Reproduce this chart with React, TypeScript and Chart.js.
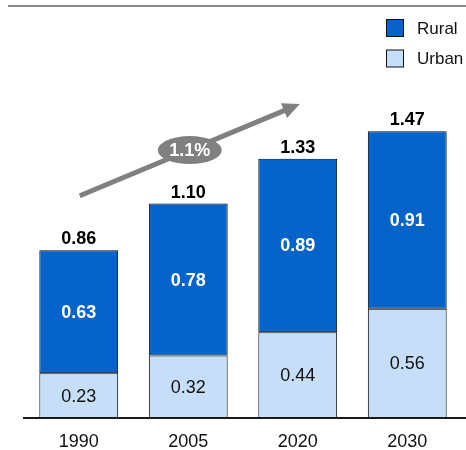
import { useEffect, useRef } from "react";
import { Chart, registerables } from "chart.js";

Chart.register(...registerables);

const categories = ["1990", "2005", "2020", "2030"];
const urbanValues = [0.23, 0.32, 0.44, 0.56];
const ruralValues = [0.63, 0.78, 0.89, 0.91];
const totalValues = [0.86, 1.1, 1.33, 1.47];
const growthLabel = "1.1%";
const seriesNames = ["Rural", "Urban"];

const RURAL_COLOR = "#0563C9";
const URBAN_COLOR = "#C6DEF7";
const FONT = "'Liberation Sans', Arial, sans-serif";

const annotationPlugin = {
  id: "annotations",
  afterDatasetsDraw(chart: any) {
    const ctx = chart.ctx;
    const xs = chart.scales.x;
    const ys = chart.scales.y;
    ctx.save();

    // top rule
    ctx.strokeStyle = "#8a8a8a";
    ctx.lineWidth = 2;
    ctx.beginPath();
    ctx.moveTo(8, 6);
    ctx.lineTo(chart.width, 6);
    ctx.stroke();

    // baseline
    const baseY = ys.getPixelForValue(0);
    ctx.strokeStyle = "#1a1a1a";
    ctx.lineWidth = 2;
    ctx.beginPath();
    ctx.moveTo(23, baseY);
    ctx.lineTo(chart.width, baseY);
    ctx.stroke();

    // segment labels
    ctx.textAlign = "center";
    ctx.textBaseline = "middle";
    chart.data.datasets.forEach((ds: any, di: number) => {
      const meta = chart.getDatasetMeta(di);
      meta.data.forEach((el: any, i: number) => {
        const cy = (el.y + el.base) / 2;
        const isRural = ds.label === "Rural";
        ctx.font = (isRural ? "bold " : "") + "18px " + FONT;
        ctx.fillStyle = isRural ? "#ffffff" : "#111111";
        ctx.fillText(ds.data[i].toFixed(2), el.x, cy + 1);
      });
    });

    // totals
    const ruralMeta = chart.getDatasetMeta(1);
    ctx.font = "bold 18px " + FONT;
    ctx.fillStyle = "#000000";
    ctx.textBaseline = "alphabetic";
    ruralMeta.data.forEach((el: any, i: number) => {
      ctx.fillText(totalValues[i].toFixed(2), el.x, el.y - 6);
    });

    // growth arrow
    const x0 = xs.getPixelForValue(0) + 1;
    const y0 = ys.getPixelForValue(1.14);
    const x1 = xs.getPixelForValue(2) + 2;
    const y1 = ys.getPixelForValue(1.61);
    const ang = Math.atan2(y1 - y0, x1 - x0);
    const headLen = 17;
    const headW = 8;
    const bx = x1 - headLen * Math.cos(ang);
    const by = y1 - headLen * Math.sin(ang);
    ctx.strokeStyle = "#808080";
    ctx.fillStyle = "#808080";
    ctx.lineWidth = 5;
    ctx.beginPath();
    ctx.moveTo(x0, y0);
    ctx.lineTo(bx + 2 * Math.cos(ang), by + 2 * Math.sin(ang));
    ctx.stroke();
    ctx.beginPath();
    ctx.moveTo(x1, y1);
    ctx.lineTo(bx + headW * Math.sin(ang), by - headW * Math.cos(ang));
    ctx.lineTo(bx - headW * Math.sin(ang), by + headW * Math.cos(ang));
    ctx.closePath();
    ctx.fill();

    // ellipse badge
    const ex = xs.getPixelForValue(1) + 1.5;
    const ey = ys.getPixelForValue(1.374);
    ctx.beginPath();
    ctx.ellipse(ex, ey, 32, 14, 0, 0, Math.PI * 2);
    ctx.fill();
    ctx.fillStyle = "#ffffff";
    ctx.font = "bold 18px " + FONT;
    ctx.textBaseline = "middle";
    ctx.fillText(growthLabel, ex, ey + 1);

    // legend
    const legendColors = [RURAL_COLOR, URBAN_COLOR];
    ctx.textAlign = "left";
    ctx.font = "17px " + FONT;
    seriesNames.forEach((name, i) => {
      const ly = 19 + i * 30.5;
      ctx.fillStyle = legendColors[i];
      ctx.fillRect(386.5, ly + 0.5, 17, 17);
      ctx.strokeStyle = "#111111";
      ctx.lineWidth = 1;
      ctx.strokeRect(386.5, ly + 0.5, 17, 17);
      ctx.fillStyle = "#111111";
      ctx.fillText(name, 417, ly + 10);
    });

    ctx.restore();
  },
};

export default function App() {
  const ref = useRef<HTMLCanvasElement>(null);
  useEffect(() => {
    if (!ref.current) return;
    const chart = new Chart(ref.current, {
      type: "bar",
      data: {
        labels: categories,
        datasets: [
          {
            label: "Urban",
            data: urbanValues,
            backgroundColor: URBAN_COLOR,
            borderColor: "#000000",
            borderWidth: 1,
            borderSkipped: false,
            categoryPercentage: 1,
            barPercentage: 0.72,
          },
          {
            label: "Rural",
            data: ruralValues,
            backgroundColor: RURAL_COLOR,
            borderColor: "#000000",
            borderWidth: 1,
            borderSkipped: false,
            categoryPercentage: 1,
            barPercentage: 0.72,
          },
        ],
      },
      options: {
        animation: false,
        responsive: true,
        maintainAspectRatio: false,
        layout: { padding: { left: 24, right: 4, top: 125.5, bottom: 0 } },
        plugins: {
          legend: { display: false },
          tooltip: { enabled: false },
        },
        scales: {
          x: {
            stacked: true,
            grid: { display: false, drawTicks: false },
            border: { display: false },
            ticks: {
              color: "#111111",
              font: { family: FONT, size: 18 },
              padding: 13,
            },
            afterFit: (scale: any) => {
              scale.height = 32;
            },
          },
          y: {
            stacked: true,
            display: false,
            min: 0,
            max: 1.5,
          },
        },
      },
      plugins: [annotationPlugin],
    });
    return () => chart.destroy();
  }, []);
  return (
    <div style={{ position: "absolute", left: 0, top: 0, width: 466, height: 450 }}>
      <canvas ref={ref} />
    </div>
  );
}
